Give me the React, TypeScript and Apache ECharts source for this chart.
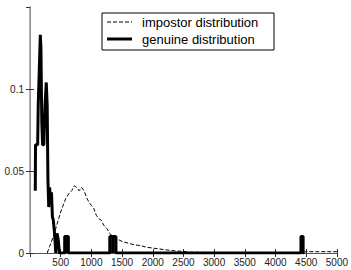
import React, { useEffect, useRef } from "react";
import * as echarts from "echarts";

const seriesNames = ["impostor distribution", "genuine distribution"];

const impostorX = [280, 320, 380, 420, 460, 500, 540, 580, 630, 680, 720, 760, 800, 840, 880, 920, 960, 1000, 1040, 1080, 1120, 1160, 1200, 1250, 1300, 1350, 1400, 1450, 1500, 1600, 1700, 1800, 1900, 2000, 2100, 2200, 2300, 2400, 2500, 2600, 3000, 3500, 4000, 4400, 4500, 4700, 5000];
const impostorY = [0, 0.004, 0.01, 0.015, 0.02, 0.025, 0.029, 0.033, 0.036, 0.038, 0.041, 0.04, 0.038, 0.04, 0.038, 0.034, 0.031, 0.029, 0.027, 0.023, 0.021, 0.02, 0.017, 0.015, 0.012, 0.01, 0.009, 0.008, 0.007, 0.006, 0.005, 0.0045, 0.0035, 0.003, 0.0025, 0.002, 0.0015, 0.0012, 0.001, 0.0005, 0.0003, 0.0003, 0.0003, 0.0003, 0.0008, 0.0008, 0.0008];

const genuineX = [86, 90, 125, 134, 150, 168, 178, 192, 205, 225, 245, 265, 280, 292, 305, 320, 335, 350, 365, 380, 400, 420, 440, 460, 480, 565, 565, 595, 595, 595, 625, 625, 1300, 1300, 1350, 1350, 1350, 1400, 1400, 4415, 4415, 4450, 4450, 4470];
const genuineY = [0.038, 0.066, 0.066, 0.09, 0.11, 0.133, 0.125, 0.08, 0.066, 0.066, 0.09, 0.104, 0.09, 0.045, 0.028, 0.04, 0.03, 0.037, 0.022, 0.02, 0.012, 0, 0.012, 0.008, 0, 0, 0.01, 0.01, 0, 0.01, 0.01, 0, 0, 0.01, 0.01, 0, 0.01, 0.01, 0, 0, 0.01, 0.01, 0, 0];

const xMin = 0;
const xMax = 5000;
const xStep = 500;
const yMin = 0;
const yMax = 0.15;
const yStep = 0.05;

const font = "Arial, 'Liberation Sans', sans-serif";

export default function App() {
  const ref = useRef<HTMLDivElement>(null);
  useEffect(() => {
    if (!ref.current) return;
    const chart = echarts.init(ref.current, undefined, { renderer: "svg" });
    const impostor = impostorX.map((x, i) => [x, impostorY[i]]);
    const genuine = genuineX.map((x, i) => [x, genuineY[i]]);
    const axisLine = { show: true, lineStyle: { color: "#555", width: 1 } };
    const tick = { show: true, inside: true, length: 4, lineStyle: { color: "#333" } };
    const dashed = [4, 2];
    chart.setOption({
      animation: false,
      backgroundColor: "#fff",
      grid: { left: 30, right: 8, top: 7, bottom: 17, containLabel: false },
      graphic: [
        {
          type: "group",
          z: 100,
          children: [
            { type: "rect", shape: { x: 102, y: 13, width: 172, height: 37 }, style: { fill: "#fff", stroke: "#000", lineWidth: 1 } },
            { type: "line", shape: { x1: 107, y1: 22, x2: 132, y2: 22 }, style: { stroke: "#000", lineWidth: 1, lineDash: dashed } },
            { type: "line", shape: { x1: 107, y1: 39, x2: 132, y2: 39 }, style: { stroke: "#000", lineWidth: 3 } },
            { type: "text", x: 142, y: 22, style: { text: seriesNames[0], font: `13px ${font}`, fill: "#000", verticalAlign: "middle" } },
            { type: "text", x: 142, y: 39, style: { text: seriesNames[1], font: `13px ${font}`, fill: "#000", verticalAlign: "middle" } },
          ],
        },
      ],
      xAxis: [
        {
          type: "value",
          min: xMin,
          max: xMax,
          interval: xStep,
          axisLine,
          axisTick: tick,
          splitLine: { show: false },
          axisLabel: { fontFamily: font, fontSize: 10, color: "#222", margin: 4, showMinLabel: false, formatter: (v: number) => String(v) },
        },
        {
          type: "value",
          position: "top",
          min: xMin,
          max: xMax,
          interval: xStep,
          axisLine,
          axisTick: tick,
          splitLine: { show: false },
          axisLabel: { show: false },
        },
      ],
      yAxis: [
        {
          type: "value",
          min: yMin,
          max: yMax,
          interval: yStep,
          axisLine: { show: true, lineStyle: { color: "#888", width: 1 } },
          axisTick: tick,
          splitLine: { show: false },
          axisLabel: { fontFamily: font, fontSize: 10, color: "#222", margin: 6, showMaxLabel: false, formatter: (v: number) => String(v) },
        },
        {
          type: "value",
          position: "right",
          min: yMin,
          max: yMax,
          interval: yStep,
          axisLine: { show: true, lineStyle: { color: "#999", width: 1.5 } },
          axisTick: tick,
          splitLine: { show: false },
          axisLabel: { show: false },
        },
      ],
      series: [
        {
          name: seriesNames[0],
          type: "line",
          data: impostor,
          symbol: "none",
          showSymbol: false,
          lineStyle: { color: "#000", width: 1, type: dashed },
          itemStyle: { color: "#000" },
        },
        {
          name: seriesNames[1],
          type: "line",
          data: genuine,
          symbol: "none",
          showSymbol: false,
          lineStyle: { color: "#000", width: 3 },
          itemStyle: { color: "#000" },
        },
      ],
    });
    return () => chart.dispose();
  }, []);
  return (
    <div
      ref={ref}
      style={{ position: "fixed", left: 0, top: 0, width: 351, height: 270, background: "#fff" }}
    />
  );
}
